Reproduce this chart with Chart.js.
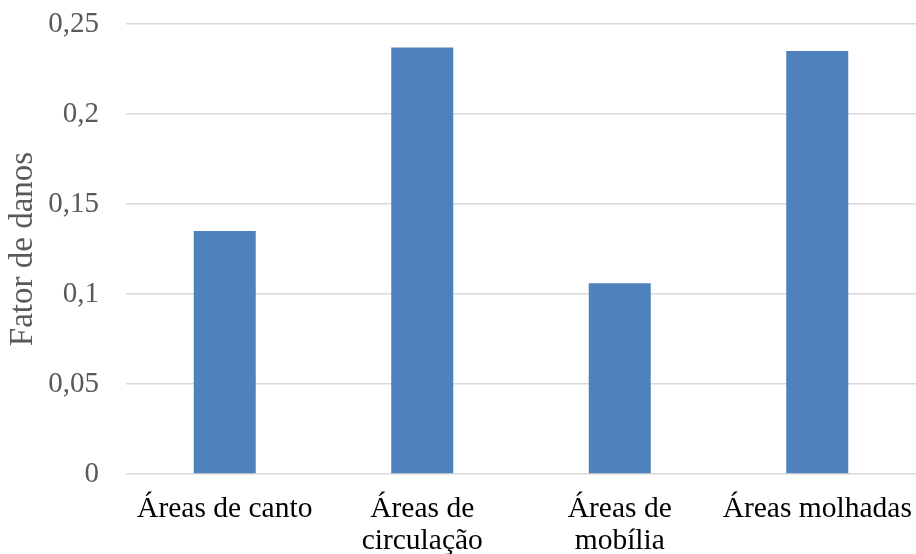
<!DOCTYPE html>
<html>
<head>
<meta charset="utf-8">
<script src="https://cdn.jsdelivr.net/npm/chart.js@4/dist/chart.umd.min.js"></script>
<style>
  html, body { margin: 0; padding: 0; background: #ffffff; }
  #wrap { width: 916px; height: 554px; }
</style>
</head>
<body>
<div id="wrap"><canvas id="c" width="916" height="554"></canvas></div>
<script>
// Damage factor per area type
const categories = [
  'Áreas de canto',
  ['Áreas de', 'circulação'],
  ['Áreas de', 'mobília'],
  'Áreas molhadas'
];
const fatorDanos = [0.135, 0.237, 0.106, 0.235];
const yTickLabels = ['0', '0,05', '0,1', '0,15', '0,2', '0,25'];
const yAxisTitle = 'Fator de danos';

const serif = "'Liberation Serif', 'Times New Roman', serif";

new Chart(document.getElementById('c'), {
  type: 'bar',
  data: {
    labels: categories,
    datasets: [{
      data: fatorDanos,
      backgroundColor: '#4f81bd',
      borderWidth: 0,
      barPercentage: 0.314,
      categoryPercentage: 1
    }]
  },
  options: {
    responsive: false,
    animation: false,
    layout: { padding: { top: 24, right: 0, left: 0, bottom: 0 } },
    plugins: {
      legend: { display: false },
      tooltip: { enabled: false }
    },
    scales: {
      x: {
        grid: { display: false },
        border: { display: false },
        ticks: {
          color: '#000000',
          padding: 11,
          maxRotation: 0,
          autoSkip: false,
          font: { family: serif, size: 29.5, lineHeight: 1.1 }
        },
        afterFit: s => {
          s.height = 80;
          s.paddingLeft = 0;
          s.paddingRight = 0;
        }
      },
      y: {
        min: 0,
        max: 0.25,
        grid: {
          color: '#d9d9d9',
          lineWidth: 1.5,
          drawTicks: false
        },
        border: { display: false },
        ticks: {
          stepSize: 0.05,
          color: '#595959',
          padding: 27,
          font: { family: serif, size: 29 },
          callback: (v, i) => yTickLabels[i]
        },
        title: {
          display: true,
          text: yAxisTitle,
          color: '#595959',
          padding: { top: 4, bottom: 0 },
          font: { family: serif, size: 33, weight: 'normal' }
        },
        afterFit: s => {
          s.width = 126;
          s.paddingTop = 0;
          s.paddingBottom = 0;
        }
      }
    }
  }
});
</script>
</body>
</html>
